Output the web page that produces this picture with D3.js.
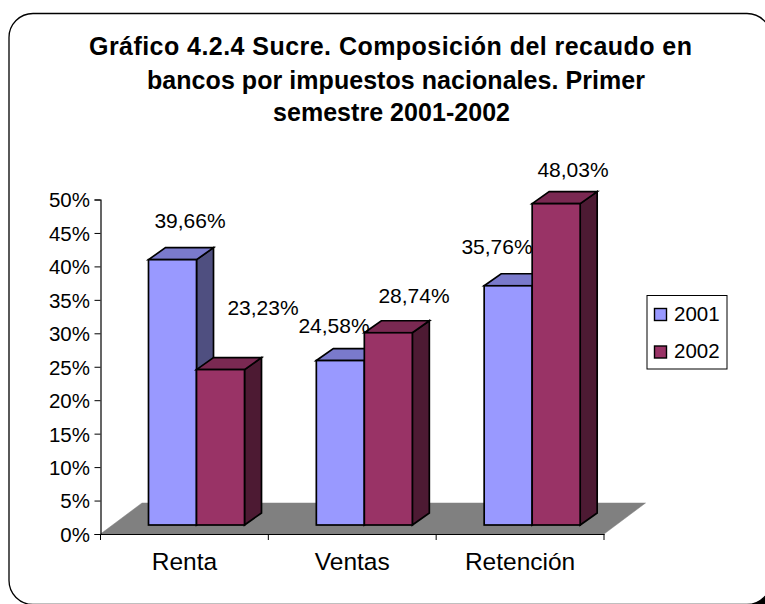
<!DOCTYPE html>
<html><head><meta charset="utf-8">
<style>html,body{margin:0;padding:0;background:#fff;overflow:hidden}svg{display:block}text{font-family:"Liberation Sans",Arial,sans-serif;fill:#000}</style>
<script src="https://cdn.jsdelivr.net/npm/d3@7"></script></head><body>
<svg id="c" width="765" height="604"></svg>
<script>
const titleLines=["Gráfico 4.2.4 Sucre. Composición del recaudo en","bancos por impuestos nacionales. Primer","semestre 2001-2002"];
const categories=["Renta","Ventas","Retención"];
const seriesNames=["2001","2002"];
const values2001=[39.66,24.58,35.76];
const values2002=[23.23,28.74,48.03];
const labels2001=["39,66%","24,58%","35,76%"];
const labels2002=["23,23%","28,74%","48,03%"];
const yTicks=[0,5,10,15,20,25,30,35,40,45,50];
const colors={"2001":{front:"#9999ff",top:"#7a7acc",side:"#4f4f80"},"2002":{front:"#993366",top:"#7a2952",side:"#4d1a33"}};

const svg=d3.select("#c");
// frame with black corner shadow
svg.append("rect").attr("x",740).attr("y",580).attr("width",25).attr("height",24).attr("fill","#000");
svg.append("rect").attr("x",9).attr("y",13.5).attr("width",762).attr("height",591).attr("rx",24).attr("fill","#fff").attr("stroke","#000").attr("stroke-width",1.3);

const titleWidths=[603,498,237];
const titleX=[390.5,396,391.5];
titleLines.forEach((t,i)=>svg.append("text").attr("text-anchor","middle").style("font-weight","bold").style("font-size","25px")
  .attr("x",titleX[i]).attr("y",[55,88.5,121][i]).attr("textLength",titleWidths[i]).attr("lengthAdjust","spacing").text(t));

const y=d3.scaleLinear().domain([0,50]).range([534,199.5]);
const x=d3.scaleBand().domain(categories).range([100.5,604]);
const depthFloor={dx:41.5,dy:-31};
const depthBar={dx:17,dy:-12};
const front={dy:-9};

// floor
const y0=y(0);
svg.append("path").attr("d",d3.line()([[x.range()[0],y0],[x.range()[0]+depthFloor.dx,y0+depthFloor.dy],[x.range()[1]+depthFloor.dx,y0+depthFloor.dy],[x.range()[1],y0]])+"Z").attr("fill","#808080").attr("stroke","#808080").attr("stroke-width",.5);

// axes
const yAxis=d3.axisLeft(y).tickValues(yTicks).tickSize(6).tickFormat(d=>d+"%");
const gy=svg.append("g").attr("transform","translate(100.5,0)").call(yAxis);
gy.selectAll("text").style("font-size","20.5px").attr("x",-10.5).attr("dy","0.36em");
const xAxis=d3.axisBottom(x).tickValues([]).tickSize(0);
const gx=svg.append("g").attr("transform",`translate(0,${y0})`).call(xAxis);
svg.selectAll(".domain").attr("stroke","#000").attr("stroke-width",1.2);
svg.selectAll(".tick line").attr("stroke","#000");
gx.selectAll(".xt").data([...categories.map(c=>x(c)),x.range()[1]]).join("line").attr("x1",d=>d).attr("x2",d=>d).attr("y1",0).attr("y2",6).attr("stroke","#000");
gx.selectAll(".xl").data(categories).join("text").attr("x",d=>x(d)+x.bandwidth()/2).attr("y",36).attr("text-anchor","middle").attr("fill","#000").style("font-size","24.5px").text(d=>d);

// bars
const xs=d3.scaleBand().domain(seriesNames).range([0,96]);
const rows=[];
categories.forEach((c,i)=>seriesNames.forEach((s,j)=>rows.push({c,s,i,j,v:(j?values2002:values2001)[i],l:(j?labels2002:labels2001)[i]})));
const labelPos={ "Renta2001":[190,228],"Renta2002":[263,315],"Ventas2001":[334,333],"Ventas2002":[414,303],"Retención2001":[497,254],"Retención2002":[573,177]};
const bars=svg.append("g");
rows.forEach(d=>{
  const bx=x(d.c)+48+xs(d.s), w=xs.bandwidth(), top=y(d.v)+front.dy, bot=y0+front.dy;
  const g=bars.append("g").attr("stroke","#000").attr("stroke-width",1.7).attr("stroke-linejoin","miter");
  const dx=depthBar.dx,dy=depthBar.dy,c=colors[d.s];
  g.append("path").attr("d",d3.line()([[bx+w,top],[bx+w+dx,top+dy],[bx+w+dx,bot+dy],[bx+w,bot]])+"Z").attr("fill",c.side);
  g.append("path").attr("d",d3.line()([[bx,top],[bx+dx,top+dy],[bx+w+dx,top+dy],[bx+w,top]])+"Z").attr("fill",c.top);
  g.append("rect").attr("x",bx).attr("y",top).attr("width",w).attr("height",bot-top).attr("fill",c.front);
});
// labels
rows.forEach(d=>{
  const p=labelPos[d.c+d.s];
  svg.append("text").attr("x",p[0]).attr("y",p[1]).attr("text-anchor","middle").style("font-size","21px").text(d.l);
});
// legend
const lg=svg.append("g");
lg.append("rect").attr("x",647).attr("y",295.5).attr("width",80).attr("height",73.5).attr("fill","#fff").attr("stroke","#000").attr("stroke-width",1);
seriesNames.forEach((s,i)=>{
  const cy=[314.5,352][i];
  lg.append("rect").attr("x",654.5).attr("y",cy-6).attr("width",12).attr("height",12).attr("fill",colors[s].front).attr("stroke","#000").attr("stroke-width",1.4);
  lg.append("text").attr("x",674).attr("y",[320.5,357.5][i]).style("font-size","20.5px").text(s);
});
</script></body></html>
